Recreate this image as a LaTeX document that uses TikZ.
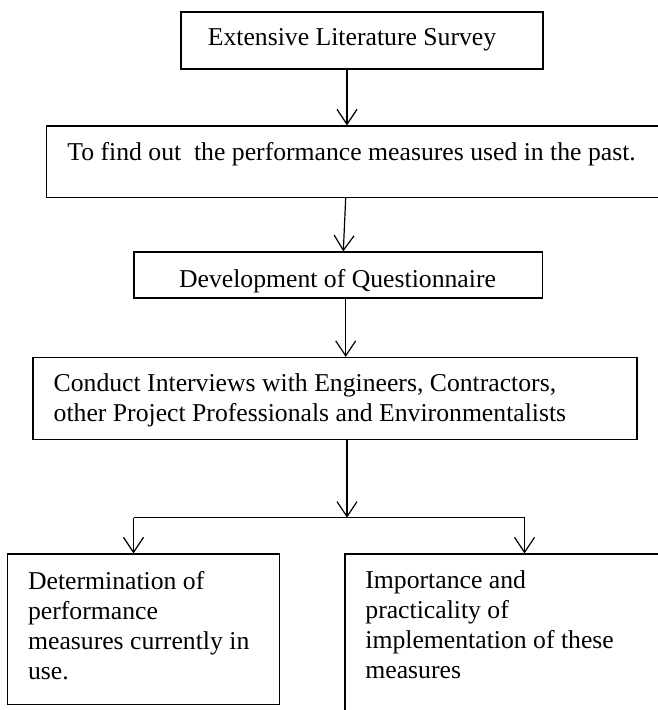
\documentclass[tikz,border=0pt]{standalone}
\usepackage{fontspec}
\setmainfont{Liberation Serif}
\usetikzlibrary{arrows.meta,fit}
\newcommand\mylines[1]{\begin{tabular}[t]{@{}l@{}}#1\end{tabular}}
\begin{document}
\begin{tikzpicture}[x=0.5pt,y=-0.5pt,
  box/.style={draw, line width=0.6pt, inner sep=0pt, rectangle},
  txt/.style={inner sep=0pt, font=\fontsize{12.85}{15}\selectfont},
  arr/.style={line width=0.6pt, -{Straight Barb[length=7.5pt,width=10pt,line width=0.6pt]}},
  ln/.style={line width=0.6pt}]
\useasboundingbox (0,0) rectangle (657,710);
% boxes
\node[box, fit={(181,12) (543,69)}] (b1) {};
\node[box, fit={(46.7,126) (672,197.3)}] (b2) {};
\node[box, fit={(134,252) (542.7,298)}] (b3) {};
\node[box, fit={(33,357.5) (637,439.3)}] (b4) {};
\node[box, fit={(7.3,554) (279.3,704.3)}] (b5) {};
\node[box, fit={(345,554) (672,725)}] (b6) {};
% texts
\node[txt, anchor=base] (t1) at (352,46) {Extensive Literature Survey};
\node[txt, anchor=base west] (t2) at (67,161) {To find out\ \ the performance measures used in the past.};
\node[txt, anchor=base] (t3) at (337.5,287.3) {Development of Questionnaire};
\node[txt, anchor=base west] (t4) at (53.3,391.7) {\mylines{Conduct Interviews with Engineers, Contractors,\\other Project Professionals and Environmentalists}};
\node[txt, anchor=base west] (t5) at (27.7,589) {\mylines{Determination of\\performance\\measures currently in\\use.}};
\node[txt, anchor=base west] (t6) at (365,588.3) {\mylines{Importance and\\practicality of\\implementation of these\\measures}};
% connectors
\coordinate (split) at (347,517.7);
\coordinate (sl) at (133.5,517.7);
\coordinate (sr) at (524.5,517.7);
\draw[arr] (b1.south -| 347,0) -- (b2.north -| 347,0);
\draw[arr] (b2.south -| 345.7,0) -- (b3.north -| 343.3,0);
\draw[arr] (b3.south -| 345.7,0) -- (b4.north -| 345.7,0);
\draw[arr] (b4.south -| split) -- (split);
\draw[ln] (sl) -- (sr);
\draw[arr] (sl) -- (b5.north -| sl);
\draw[arr] (sr) -- (b6.north -| sr);
\end{tikzpicture}
\end{document}
